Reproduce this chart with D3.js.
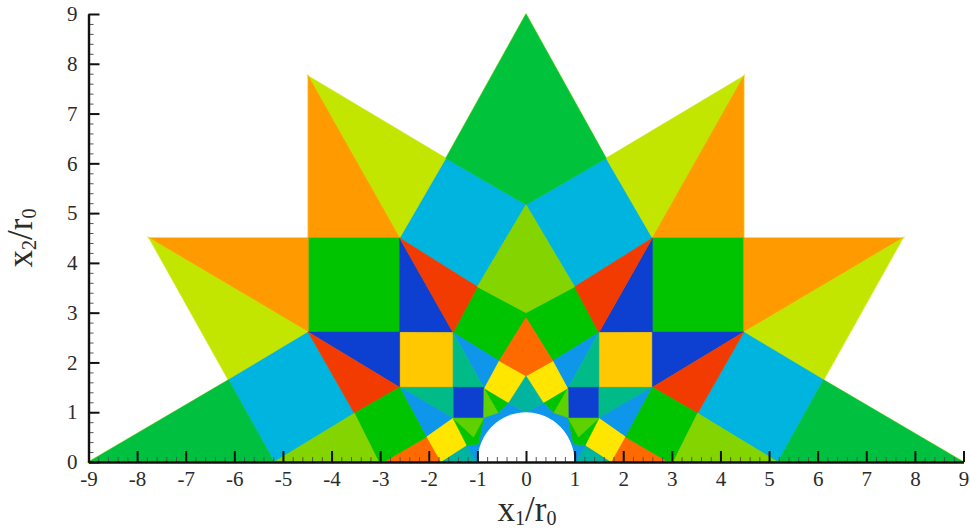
<!DOCTYPE html>
<html>
<head>
<meta charset="utf-8">
<script src="https://cdn.jsdelivr.net/npm/d3@7"></script>
<style>
  body { margin: 0; background: #fff; }
  text { font-family: "Liberation Serif", serif; fill: #2b2b2b; }
</style>
</head>
<body>
<div id="chart"></div>
<script>
// Axis ticks
var majorTicks = [-9, -8, -7, -6, -5, -4, -3, -2, -1, 0, 1, 2, 3, 4, 5, 6, 7, 8, 9];
var yMajorTicks = [0, 1, 2, 3, 4, 5, 6, 7, 8, 9];
var xMinorTicks = d3.range(-9, 9.01, 0.2);
var yMinorTicks = d3.range(0, 9.01, 0.2);

// Colour level of each cell, same order as the vertex lists below
var centreLevels = [0, 3, 10, 14];
var centreCells = [
  [[0, 9], [1.65, 6.1], [0, 5.17], [-1.65, 6.1]],
  [[0, 5.17], [1, 3.52], [0, 3], [-1, 3.52]],
  [[0, 2.9], [0.55, 2.03], [0, 1.73], [-0.55, 2.03]],
  [[0, 1.73], [0.36, 1.18], [0, 1], [-0.36, 1.18]]
];

var sideLevels = [6, 4, 5, 1, 5, 4, 6, 2, 1, 7, 8, 9, 7, 8, 12, 13, 11, 7, 1, 15, 13, 12, 14, 11, 12, 10, 1, 3, 1, 15];

var rightCells = [
  [[0, 5.17], [1.65, 6.1], [2.6, 4.5], [1, 3.52]],
  [[1.65, 6.1], [4.48, 7.75], [2.6, 4.5]],
  [[4.48, 7.75], [4.48, 4.5], [2.6, 4.5]],
  [[2.6, 4.5], [4.48, 4.5], [4.48, 2.61], [2.6, 2.61]],
  [[4.48, 4.5], [7.75, 4.5], [4.48, 2.61]],
  [[7.75, 4.5], [6.12, 1.65], [4.48, 2.61]],
  [[4.48, 2.61], [6.12, 1.65], [5.18, 0], [3.53, 0.98]],
  [[6.12, 1.65], [9, 0], [5.18, 0]],
  [[0, 3], [1, 3.52], [1.5, 2.6], [0.55, 2.03], [0, 2.9]],
  [[2.6, 4.5], [2.6, 2.61], [1.5, 2.6]],
  [[2.6, 4.5], [1.5, 2.6], [1, 3.52]],
  [[1.5, 2.6], [2.6, 2.6], [2.6, 1.5], [1.5, 1.5]],
  [[2.6, 2.61], [4.48, 2.61], [2.6, 1.5]],
  [[2.6, 1.5], [4.48, 2.61], [3.53, 0.98]],
  [[1.5, 2.6], [0.55, 2.03], [0.86, 1.47]],
  [[1.5, 2.6], [1.5, 1.5], [0.86, 1.47]],
  [[0.55, 2.03], [0.86, 1.47], [0.36, 1.18], [0, 1.73]],
  [[0.87, 1.5], [1.5, 1.5], [1.5, 0.88], [0.87, 0.88]],
  [[0.36, 1.18], [0.86, 1.47], [0.57, 0.98]],
  [[0.86, 1.47], [0.87, 0.88], [0.57, 0.98]],
  [[1.5, 1.5], [2.6, 1.5], [1.5, 0.88]],
  [[2.6, 1.5], [1.5, 0.88], [2.05, 0.5]],
  [[1.22, 0.34], [1.76, 0], [1.02, 0]],
  [[1.5, 0.88], [2.05, 0.5], [1.76, 0], [1.22, 0.34]],
  [[0, 1], [0.36, 1.18], [0.57, 0.98], [0.87, 0.88], [0.98, 0.36], [1.22, 0.34], [1.02, 0], [0.5, 0]],
  [[2.05, 0.5], [2.93, 0], [1.76, 0]],
  [[2.6, 1.5], [3.53, 0.98], [3.03, 0], [2.93, 0], [2.05, 0.5]],
  [[3.53, 0.98], [5.18, 0], [3.03, 0]],
  [[0.87, 0.88], [1.5, 0.88], [1.22, 0.34], [0.98, 0.36]],
  [[0.87, 0.88], [1.5, 0.88], [1.08, 0.5]]
];

var leftCells = [
  [[0, 5.17], [-1.65, 6.1], [-2.6, 4.5], [-1, 3.52]],
  [[-1.65, 6.1], [-4.48, 7.75], [-2.6, 4.5]],
  [[-4.48, 7.75], [-4.48, 4.5], [-2.6, 4.5]],
  [[-2.6, 4.5], [-4.48, 4.5], [-4.48, 2.61], [-2.6, 2.61]],
  [[-4.48, 4.5], [-7.75, 4.5], [-4.48, 2.61]],
  [[-7.75, 4.5], [-6.12, 1.65], [-4.48, 2.61]],
  [[-4.48, 2.61], [-6.12, 1.65], [-5.18, 0], [-3.53, 0.98]],
  [[-6.12, 1.65], [-9, 0], [-5.18, 0]],
  [[0, 3], [-1, 3.52], [-1.5, 2.6], [-0.55, 2.03], [0, 2.9]],
  [[-2.6, 4.5], [-2.6, 2.61], [-1.5, 2.6]],
  [[-2.6, 4.5], [-1.5, 2.6], [-1, 3.52]],
  [[-1.5, 2.6], [-2.6, 2.6], [-2.6, 1.5], [-1.5, 1.5]],
  [[-2.6, 2.61], [-4.48, 2.61], [-2.6, 1.5]],
  [[-2.6, 1.5], [-4.48, 2.61], [-3.53, 0.98]],
  [[-1.5, 2.6], [-0.55, 2.03], [-0.86, 1.47]],
  [[-1.5, 2.6], [-1.5, 1.5], [-0.86, 1.47]],
  [[-0.55, 2.03], [-0.86, 1.47], [-0.36, 1.18], [0, 1.73]],
  [[-0.87, 1.5], [-1.5, 1.5], [-1.5, 0.88], [-0.87, 0.88]],
  [[-0.36, 1.18], [-0.86, 1.47], [-0.57, 0.98]],
  [[-0.86, 1.47], [-0.87, 0.88], [-0.57, 0.98]],
  [[-1.5, 1.5], [-2.6, 1.5], [-1.5, 0.88]],
  [[-2.6, 1.5], [-1.5, 0.88], [-2.05, 0.5]],
  [[-1.22, 0.34], [-1.76, 0], [-1.02, 0]],
  [[-1.5, 0.88], [-2.05, 0.5], [-1.76, 0], [-1.22, 0.34]],
  [[0, 1], [-0.36, 1.18], [-0.57, 0.98], [-0.87, 0.88], [-0.98, 0.36], [-1.22, 0.34], [-1.02, 0], [-0.5, 0]],
  [[-2.05, 0.5], [-2.93, 0], [-1.76, 0]],
  [[-2.6, 1.5], [-3.53, 0.98], [-3.03, 0], [-2.93, 0], [-2.05, 0.5]],
  [[-3.53, 0.98], [-5.18, 0], [-3.03, 0]],
  [[-0.87, 0.88], [-1.5, 0.88], [-1.22, 0.34], [-0.98, 0.36]],
  [[-0.87, 0.88], [-1.5, 0.88], [-1.08, 0.5]]
];

// Taille du SVG
var width = 970, height = 531;
var svg = d3.select("#chart").append("svg")
    .attr("width", width)
    .attr("height", height);

var x = d3.scaleLinear().domain([-9, 9]).range([88.5, 963.5]);
var y = d3.scaleLinear().domain([0, 9]).range([462, 14]);

var colour = d3.scaleOrdinal()
    .domain(d3.range(16))
    .range(["#00c23a", "#00c400", "#00c040", "#84d400", "#c2e600", "#ff9a00", "#00b4e0", "#0a3fd0",
            "#f23a00", "#ffc800", "#ff6a00", "#ffe600", "#0a96ea", "#00bb88", "#00b4a0", "#5fd000"]);

var cellLine = d3.line().x(function (d) { return x(d[0]); }).y(function (d) { return y(d[1]); });

var defs = svg.append("defs");
defs.append("filter").attr("id", "soft")
    .attr("x", "-2%").attr("y", "-2%").attr("width", "104%").attr("height", "104%")
    .append("feGaussianBlur").attr("stdDeviation", 0.6);

var cells = svg.append("g").attr("filter", "url(#soft)");

// Liseré jaune sur le bord extérieur de l'étoile
[rightCells, leftCells, centreCells].forEach(function (list) {
    list.forEach(function (pts) {
        cells.append("path")
            .attr("d", cellLine(pts) + "Z")
            .attr("fill", "none")
            .attr("stroke", "#e4e23c")
            .attr("stroke-opacity", 0.7)
            .attr("stroke-width", 1.6);
    });
});

function drawCells(list, levels) {
    list.forEach(function (pts, i) {
        var c = colour(levels[i]);
        cells.append("path")
            .attr("d", cellLine(pts) + "Z")
            .attr("fill", c)
            .attr("stroke", c)
            .attr("stroke-width", 0.6);
    });
}

drawCells(rightCells, sideLevels);
drawCells(leftCells, sideLevels);
drawCells(centreCells, centreLevels);

// Le trou au centre
svg.append("ellipse")
    .attr("cx", x(0))
    .attr("cy", y(0))
    .attr("rx", x(1) - x(0))
    .attr("ry", y(0) - y(1))
    .attr("fill", "#fff");

// Minor ticks first, then the main axes on top
svg.append("g")
    .attr("transform", "translate(0," + y(0) + ")")
    .call(d3.axisBottom(x).tickValues(xMinorTicks).tickSize(-5).tickFormat(""))
    .call(function (g) { g.select(".domain").remove(); })
    .selectAll("line").attr("stroke", "#555").attr("stroke-width", 1);

svg.append("g")
    .attr("transform", "translate(" + x(-9) + ",0)")
    .call(d3.axisLeft(y).tickValues(yMinorTicks).tickSize(-5).tickFormat(""))
    .call(function (g) { g.select(".domain").remove(); })
    .selectAll("line").attr("stroke", "#555").attr("stroke-width", 1);

var xAxis = svg.append("g")
    .attr("transform", "translate(0," + y(0) + ")")
    .call(d3.axisBottom(x).tickValues(majorTicks).tickSize(-11).tickSizeOuter(0).tickPadding(9).tickFormat(String));
var yAxis = svg.append("g")
    .attr("transform", "translate(" + x(-9) + ",0)")
    .call(d3.axisLeft(y).tickValues(yMajorTicks).tickSize(-11).tickSizeOuter(0).tickPadding(11).tickFormat(String));

[xAxis, yAxis].forEach(function (g) {
    g.selectAll("line").attr("stroke", "#111").attr("stroke-width", 2);
    g.select(".domain").attr("stroke", "#111").attr("stroke-width", 2.4);
    g.selectAll("text").style("font-family", "'Liberation Serif', serif").style("font-size", "21px").attr("fill", "#333");
});

// Titres des axes
function axisTitle(sel, sub) {
    sel.attr("text-anchor", "middle").style("font-size", "35px");
    sel.append("tspan").text("x");
    sel.append("tspan").attr("dy", 4).style("font-size", "20px").text(sub);
    sel.append("tspan").attr("dy", -4).text("/r");
    sel.append("tspan").attr("dy", 4).style("font-size", "20px").text("0");
}

svg.append("text").attr("x", 527).attr("y", 521).call(axisTitle, "1");
svg.append("text").attr("transform", "translate(32,238) rotate(-90)").call(axisTitle, "2");
</script>
</body>
</html>
